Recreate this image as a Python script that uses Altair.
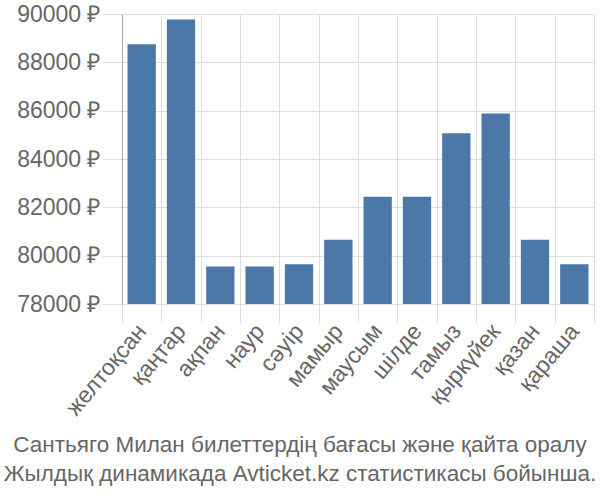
import altair as alt
import pandas as pd

months = ["желтоқсан", "қаңтар", "ақпан", "наур", "сәуір", "мамыр",
          "маусым", "шілде", "тамыз", "қыркүйек", "қазан", "қараша"]
prices = [88750, 89770, 79550, 79550, 79650, 80660,
          82440, 82440, 85070, 85880, 80660, 79650]
y_ticks = [78000, 80000, 82000, 84000, 86000, 88000, 90000]
title_lines = ["Сантьяго Милан билеттердің бағасы және қайта оралу",
               "Жылдық динамикада Avticket.kz статистикасы бойынша."]

df = pd.DataFrame({"month": months, "price": prices})

FONT = "Liberation Sans"
TXT = "#666666"
GRID = "#dddddd"

bars = alt.Chart(df).mark_bar(
    color="#4c78a8", width=alt.RelativeBandSize(0.72), clip=True
).encode(
    x=alt.X("month:N", sort=months,
            scale=alt.Scale(paddingInner=0, paddingOuter=0),
            axis=alt.Axis(title=None, labelAngle=-50, labelFontSize=23,
                          labelColor=TXT, labelFont=FONT, tickBand="extent",
                          tickSize=19, tickColor=GRID, grid=True,
                          gridColor=GRID, domain=False, labelPadding=4)),
    y=alt.Y("price:Q",
            scale=alt.Scale(domain=[78000, 90000], zero=False, nice=False),
            axis=alt.Axis(title=None, values=y_ticks,
                          labelExpr="datum.value + ' ₽'", labelFontSize=23,
                          labelColor=TXT, labelFont=FONT, tickSize=20,
                          tickColor=GRID, gridColor=GRID, domainColor="#aaaaaa",
                          labelPadding=2)),
)

chart = bars.properties(
    width=472, height=290,
    autosize="none",
    padding={"left": 122, "top": 14, "right": 6, "bottom": 196},
    title=alt.TitleParams(text=title_lines, orient="bottom", fontSize=22.5,
                          color=TXT, font=FONT, fontWeight="normal",
                          anchor="middle", dx=-58, lineHeight=29, offset=14),
).configure_view(stroke="transparent")

chart.save("out.html", embed_options={"renderer": "svg", "actions": False})
